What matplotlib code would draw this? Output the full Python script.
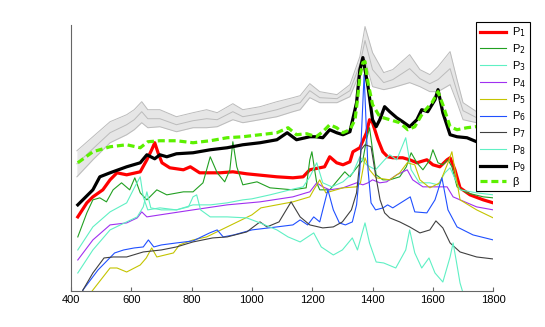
import numpy as np
import matplotlib
matplotlib.use("Agg")
import matplotlib.pyplot as plt

# --- Werte (Wellenzahl / Intensität, willkürliche Einheiten) ---
x_gray = [420, 473, 530, 585, 610, 635, 655, 695, 750, 805, 850, 885, 937, 970, 1027, 1083, 1136, 1160,
          1192, 1225, 1282, 1325, 1358, 1375, 1400, 1437, 1467, 1523, 1557, 1590, 1617, 1657, 1680, 1700,
          1745, 1800]
gray_top = [140, 154, 169, 176, 181, 189, 181, 181, 174, 178, 181, 178, 187, 181, 184, 189, 193, 195,
            207, 199, 196, 206, 234, 264, 238, 218, 221, 236, 221, 216, 224, 239, 211, 188, 179, 176]
gray_mid = [127, 142, 158, 166, 171, 179, 172, 172, 166, 170, 172, 171, 179, 174, 177, 181, 186, 188,
            200, 193, 192, 200, 226, 250, 221, 208, 211, 222, 212, 207, 211, 222, 199, 180, 173, 171]
gray_bot = [114, 131, 148, 156, 161, 168, 163, 164, 159, 163, 163, 164, 171, 168, 171, 174, 179, 181,
            193, 188, 188, 194, 218, 231, 204, 201, 203, 208, 204, 199, 199, 206, 188, 171, 168, 166]

x_p1 = [423, 453, 473, 506, 530, 553, 585, 630, 652, 668, 678, 689, 702, 728, 773, 796, 827, 894, 937, 983,
        1083, 1136, 1170, 1192, 1225, 1241, 1258, 1281, 1302, 1325, 1335, 1358, 1380, 1390, 1400, 1418,
        1434, 1450, 1467, 1500, 1523, 1547, 1580, 1600, 1623, 1647, 1657, 1673, 1690, 1723, 1767, 1800]
p1 = [74, 88, 94, 101, 111, 118, 116, 119, 131, 141, 148, 138, 128, 123, 121, 124, 118, 118, 119, 117,
      114, 113, 114, 121, 123, 124, 134, 128, 126, 129, 139, 143, 158, 171, 168, 151, 139, 134, 133, 133,
      131, 128, 131, 126, 124, 131, 133, 121, 103, 96, 91, 88]

x_p2 = [423, 453, 473, 496, 518, 540, 568, 595, 612, 630, 652, 685, 718, 773, 805, 838, 862, 885, 910, 927,
        937, 950, 970, 1017, 1060, 1136, 1180, 1192, 1199, 1208, 1215, 1225, 1258, 1280, 1308, 1325, 1342,
        1368, 1380, 1390, 1400, 1412, 1434, 1457, 1490, 1512, 1528, 1547, 1567, 1590, 1600, 1617, 1633,
        1650, 1663, 1680, 1713, 1767, 1800]
p2 = [54, 78, 91, 93, 89, 101, 108, 101, 113, 98, 91, 101, 96, 99, 99, 108, 134, 118, 109, 121,
      149, 124, 106, 109, 103, 101, 103, 131, 139, 121, 108, 101, 101, 109, 119, 114, 121, 131, 151, 163,
      141, 116, 111, 111, 114, 124, 138, 128, 121, 131, 141, 128, 126, 131, 124, 104, 98, 94, 93]

x_p3 = [423, 473, 530, 585, 612, 630, 640, 655, 695, 750, 805, 862, 918, 970, 1000, 1060, 1100, 1140, 1170,
        1192, 1215, 1235, 1265, 1302, 1335, 1358, 1380, 1410, 1440, 1457, 1480, 1510, 1528, 1555, 1590,
        1617, 1640, 1657, 1690, 1745, 1800]
p3 = [41, 64, 79, 88, 104, 114, 94, 81, 83, 81, 86, 86, 88, 91, 92, 96, 99, 102, 104, 114,
      128, 108, 104, 109, 118, 134, 126, 121, 131, 136, 131, 153, 121, 108, 108, 106, 118, 123, 101, 98, 96]

x_p4 = [423, 473, 530, 585, 620, 635, 652, 695, 805, 918, 1027, 1136, 1180, 1192, 1215, 1235, 1258, 1302,
        1347, 1368, 1385, 1400, 1424, 1447, 1480, 1515, 1533, 1567, 1600, 1647, 1667, 1690, 1745, 1800]
p4 = [31, 51, 66, 68, 73, 79, 74, 76, 81, 86, 89, 94, 98, 99, 108, 104, 101, 103, 108, 106,
      108, 111, 108, 109, 116, 121, 111, 104, 104, 104, 94, 91, 84, 81]

x_p5 = [423, 473, 530, 553, 585, 630, 650, 668, 685, 740, 760, 805, 850, 918, 1000, 1030, 1083, 1136, 1192,
        1205, 1225, 1245, 1302, 1347, 1360, 1375, 1390, 1412, 1457, 1490, 1515, 1540, 1557, 1590, 1623,
        1650, 1663, 1673, 1690, 1745, 1800]
p5 = [-19, 1, 23, 23, 19, 26, 33, 43, 34, 38, 46, 51, 54, 64, 76, 83, 86, 89, 94, 101,
      111, 98, 103, 104, 108, 133, 121, 113, 111, 118, 128, 126, 111, 103, 108, 128, 139, 121, 91, 81, 73]

x_p6 = [423, 440, 490, 545, 575, 610, 640, 657, 675, 700, 750, 805, 860, 885, 905, 940, 1000, 1083, 1136,
        1160, 1185, 1205, 1225, 1235, 1252, 1270, 1290, 1310, 1333, 1347, 1358, 1372, 1385, 1395, 1410,
        1435, 1450, 1467, 1525, 1540, 1580, 1607, 1630, 1650, 1680, 1733, 1800]
p6 = [-14, 1, 21, 38, 41, 43, 44, 51, 44, 46, 48, 50, 58, 61, 54, 56, 61, 64, 66, 71,
      66, 74, 69, 81, 101, 81, 68, 66, 69, 86, 121, 216, 121, 88, 81, 83, 86, 83, 94, 79,
      78, 91, 113, 81, 64, 56, 51]

x_p7 = [423, 440, 473, 510, 540, 585, 640, 700, 750, 805, 870, 918, 983, 1027, 1050, 1090, 1130, 1160,
        1192, 1235, 1270, 1300, 1330, 1347, 1362, 1375, 1395, 1410, 1425, 1440, 1457, 1490, 1523, 1557,
        1590, 1610, 1633, 1657, 1690, 1745, 1800]
p7 = [-19, 1, 18, 33, 34, 34, 39, 41, 44, 49, 53, 54, 59, 69, 64, 69, 89, 74, 66, 63,
      64, 69, 81, 98, 141, 146, 144, 116, 91, 78, 73, 69, 64, 58, 61, 70, 63, 48, 39, 34, 32]

x_p8 = [423, 473, 530, 585, 620, 640, 652, 665, 700, 750, 790, 805, 817, 830, 862, 918, 983, 1027, 1083,
        1120, 1160, 1205, 1230, 1270, 1300, 1333, 1350, 1375, 1390, 1412, 1437, 1477, 1510, 1523, 1540,
        1563, 1587, 1607, 1633, 1657, 1667, 1677, 1690, 1700, 1720]
p8 = [18, 41, 61, 69, 74, 84, 99, 83, 81, 81, 84, 94, 96, 81, 74, 74, 73, 68, 61, 54,
      49, 58, 44, 36, 41, 53, 41, 68, 48, 29, 28, 23, 41, 61, 38, 23, 33, 18, 9, 34,
      48, 31, 8, -2, -20]

x_p9 = [423, 473, 496, 530, 585, 630, 652, 678, 695, 718, 750, 805, 862, 918, 970, 1027, 1083, 1117, 1148,
        1192, 1213, 1235, 1258, 1281, 1302, 1325, 1347, 1358, 1368, 1385, 1400, 1412, 1424, 1440, 1457,
        1480, 1500, 1523, 1547, 1563, 1583, 1607, 1617, 1633, 1657, 1680, 1713, 1745, 1800]
p9 = [86, 101, 114, 118, 124, 128, 136, 132, 136, 134, 137, 138, 141, 143, 146, 148, 151, 158, 151, 154,
      154, 153, 161, 158, 156, 159, 188, 221, 233, 204, 171, 164, 171, 184, 179, 173, 169, 164, 171, 181,
      179, 191, 201, 178, 156, 154, 153, 149, 146]

x_beta = [423, 473, 530, 585, 630, 655, 695, 750, 805, 862, 918, 970, 1027, 1083, 1120, 1148, 1182, 1213,
          1235, 1258, 1281, 1302, 1325, 1342, 1350, 1358, 1368, 1375, 1385, 1400, 1424, 1457, 1490, 1517,
          1540, 1567, 1597, 1617, 1633, 1657, 1680, 1713, 1740, 1800]
beta = [128, 139, 144, 146, 143, 149, 150, 150, 148, 150, 153, 154, 156, 158, 163, 156, 157, 154,
        159, 166, 163, 158, 161, 171, 191, 214, 228, 229, 208, 186, 174, 171, 168, 161,
        164, 178, 188, 199, 186, 164, 161, 163, 164, 164]

series = [
    ("P$_1$", x_p1, p1, "#ff0000", 2.3, "-"),
    ("P$_2$", x_p2, p2, "#22a022", 0.8, "-"),
    ("P$_3$", x_p3, p3, "#5ff0c4", 0.8, "-"),
    ("P$_4$", x_p4, p4, "#a030f0", 0.8, "-"),
    ("P$_5$", x_p5, p5, "#c4c400", 0.8, "-"),
    ("P$_6$", x_p6, p6, "#2050ff", 0.8, "-"),
    ("P$_7$", x_p7, p7, "#404040", 0.8, "-"),
    ("P$_8$", x_p8, p8, "#5ff0c4", 0.8, "-"),
    ("P$_9$", x_p9, p9, "#000000", 2.3, "-"),
    ("β", x_beta, beta, "#5cf000", 2.3, "--"),
]

plt.rcParams["font.family"] = ["Liberation Sans", "DejaVu Sans"]

fig = plt.figure(figsize=(5.45, 3.27), dpi=100)
ax = fig.add_axes([0.13, 0.11, 0.775, 0.815])

# graues Bündel
ax.fill_between(x_gray, gray_bot, gray_top, color="#e6e6e6", lw=0)
for g in (gray_top, gray_mid, gray_bot):
    ax.plot(x_gray, g, color="#bbbbbb", lw=0.7)

for lab, xs, ys, col, lw, ls in series:
    ax.plot(xs, ys, color=col, lw=lw, ls=ls, label=lab,
            dashes=(2.2, 1.2) if ls == "--" else (None, None))

ax.set_xlim(400, 1800)
ax.set_ylim(0, 266)
ax.set_xticks(np.arange(400, 1801, 200))
ax.set_yticks([])
for s in ("top", "right"):
    ax.spines[s].set_visible(False)
for s in ("left", "bottom"):
    ax.spines[s].set_color("#666666")
    ax.spines[s].set_linewidth(0.8)
ax.tick_params(axis="x", direction="in", length=3, color="#666666", labelsize=8, pad=3)

leg = ax.legend(loc="upper right", bbox_to_anchor=(1.087, 1.011), fontsize=8,
                frameon=True, fancybox=False, framealpha=1, edgecolor="black",
                handlelength=2.4, labelspacing=0.27, borderpad=0.35, handletextpad=0.5,
                borderaxespad=0)
leg.get_frame().set_linewidth(0.8)

fig.savefig("out.png", dpi=100)
